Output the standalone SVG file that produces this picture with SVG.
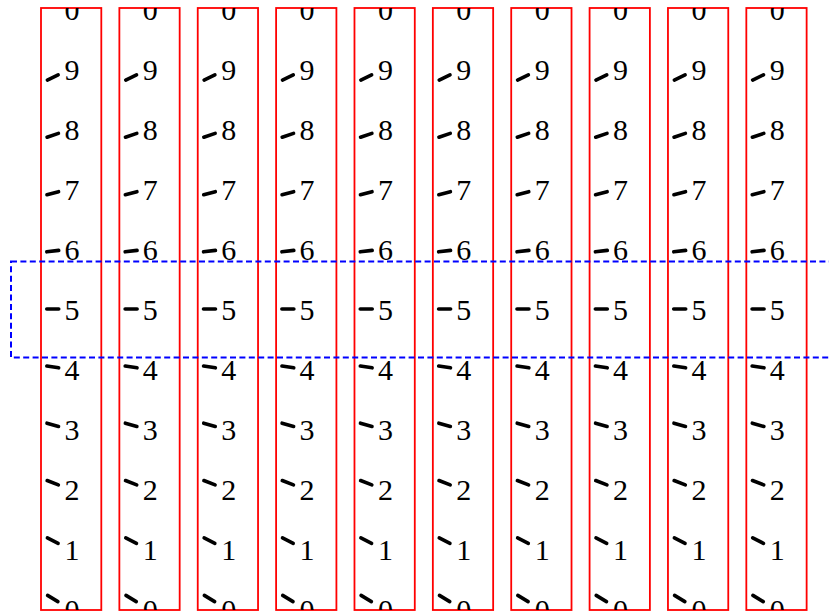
<svg xmlns="http://www.w3.org/2000/svg" xmlns:xlink="http://www.w3.org/1999/xlink" width="829" height="612" viewBox="0 0 829 612">
<style>
.reel{fill:none;stroke:#ff0000;stroke-width:1.8}
.tk{stroke:#000;stroke-width:3.6;stroke-linecap:round}
.d{font-family:"Liberation Serif","DejaVu Serif",serif;font-size:30px;fill:#000;text-anchor:middle}
.win{fill:none;stroke:#0000ff;stroke-width:2;stroke-dasharray:6 3.4}
</style>
<defs>
<clipPath id="clip"><rect x="0" y="8" width="60.3" height="602"/></clipPath>
<g id="ticks">
<line class="tk" x1="5.75" y1="77.4" x2="17.75" y2="77.4" transform="rotate(-26 11.75 77.4)"/>
<line class="tk" x1="5.75" y1="135.3" x2="17.75" y2="135.3" transform="rotate(-19 11.75 135.3)"/>
<line class="tk" x1="5.75" y1="193.2" x2="17.75" y2="193.2" transform="rotate(-15 11.75 193.2)"/>
<line class="tk" x1="5.75" y1="251.1" x2="17.75" y2="251.1" transform="rotate(-7 11.75 251.1)"/>
<line class="tk" x1="5.75" y1="309" x2="17.75" y2="309"/>
<line class="tk" x1="5.75" y1="366.9" x2="17.75" y2="366.9" transform="rotate(9 11.75 366.9)"/>
<line class="tk" x1="5.75" y1="424.8" x2="17.75" y2="424.8" transform="rotate(16 11.75 424.8)"/>
<line class="tk" x1="5.75" y1="482.7" x2="17.75" y2="482.7" transform="rotate(21 11.75 482.7)"/>
<line class="tk" x1="5.75" y1="540.6" x2="17.75" y2="540.6" transform="rotate(27 11.75 540.6)"/>
<line class="tk" x1="5.75" y1="598.5" x2="17.75" y2="598.5" transform="rotate(31 11.75 598.5)"/>
</g>
</defs>
<g id="col-1" transform="translate(41,0)">
<rect class="reel" x="0" y="8" width="60.3" height="602"/>
<use xlink:href="#ticks" href="#ticks"/>
<g clip-path="url(#clip)">
<text class="d" x="31" y="20.3">0</text><text class="d" x="31" y="80.3">9</text><text class="d" x="31" y="140.3">8</text><text class="d" x="31" y="200.3">7</text><text class="d" x="31" y="260.3">6</text><text class="d" x="31" y="320.3">5</text><text class="d" x="31" y="380.3">4</text><text class="d" x="31" y="440.3">3</text><text class="d" x="31" y="500.3">2</text><text class="d" x="31" y="560.3">1</text><text class="d" x="31" y="620.3">0</text>
</g>
</g>
<g id="col-2" transform="translate(119.37,0)">
<rect class="reel" x="0" y="8" width="60.3" height="602"/>
<use xlink:href="#ticks" href="#ticks"/>
<g clip-path="url(#clip)">
<text class="d" x="31" y="20.3">0</text><text class="d" x="31" y="80.3">9</text><text class="d" x="31" y="140.3">8</text><text class="d" x="31" y="200.3">7</text><text class="d" x="31" y="260.3">6</text><text class="d" x="31" y="320.3">5</text><text class="d" x="31" y="380.3">4</text><text class="d" x="31" y="440.3">3</text><text class="d" x="31" y="500.3">2</text><text class="d" x="31" y="560.3">1</text><text class="d" x="31" y="620.3">0</text>
</g>
</g>
<g id="col-3" transform="translate(197.74,0)">
<rect class="reel" x="0" y="8" width="60.3" height="602"/>
<use xlink:href="#ticks" href="#ticks"/>
<g clip-path="url(#clip)">
<text class="d" x="31" y="20.3">0</text><text class="d" x="31" y="80.3">9</text><text class="d" x="31" y="140.3">8</text><text class="d" x="31" y="200.3">7</text><text class="d" x="31" y="260.3">6</text><text class="d" x="31" y="320.3">5</text><text class="d" x="31" y="380.3">4</text><text class="d" x="31" y="440.3">3</text><text class="d" x="31" y="500.3">2</text><text class="d" x="31" y="560.3">1</text><text class="d" x="31" y="620.3">0</text>
</g>
</g>
<g id="col-4" transform="translate(276.11,0)">
<rect class="reel" x="0" y="8" width="60.3" height="602"/>
<use xlink:href="#ticks" href="#ticks"/>
<g clip-path="url(#clip)">
<text class="d" x="31" y="20.3">0</text><text class="d" x="31" y="80.3">9</text><text class="d" x="31" y="140.3">8</text><text class="d" x="31" y="200.3">7</text><text class="d" x="31" y="260.3">6</text><text class="d" x="31" y="320.3">5</text><text class="d" x="31" y="380.3">4</text><text class="d" x="31" y="440.3">3</text><text class="d" x="31" y="500.3">2</text><text class="d" x="31" y="560.3">1</text><text class="d" x="31" y="620.3">0</text>
</g>
</g>
<g id="col-5" transform="translate(354.48,0)">
<rect class="reel" x="0" y="8" width="60.3" height="602"/>
<use xlink:href="#ticks" href="#ticks"/>
<g clip-path="url(#clip)">
<text class="d" x="31" y="20.3">0</text><text class="d" x="31" y="80.3">9</text><text class="d" x="31" y="140.3">8</text><text class="d" x="31" y="200.3">7</text><text class="d" x="31" y="260.3">6</text><text class="d" x="31" y="320.3">5</text><text class="d" x="31" y="380.3">4</text><text class="d" x="31" y="440.3">3</text><text class="d" x="31" y="500.3">2</text><text class="d" x="31" y="560.3">1</text><text class="d" x="31" y="620.3">0</text>
</g>
</g>
<g id="col-6" transform="translate(432.85,0)">
<rect class="reel" x="0" y="8" width="60.3" height="602"/>
<use xlink:href="#ticks" href="#ticks"/>
<g clip-path="url(#clip)">
<text class="d" x="31" y="20.3">0</text><text class="d" x="31" y="80.3">9</text><text class="d" x="31" y="140.3">8</text><text class="d" x="31" y="200.3">7</text><text class="d" x="31" y="260.3">6</text><text class="d" x="31" y="320.3">5</text><text class="d" x="31" y="380.3">4</text><text class="d" x="31" y="440.3">3</text><text class="d" x="31" y="500.3">2</text><text class="d" x="31" y="560.3">1</text><text class="d" x="31" y="620.3">0</text>
</g>
</g>
<g id="col-7" transform="translate(511.22,0)">
<rect class="reel" x="0" y="8" width="60.3" height="602"/>
<use xlink:href="#ticks" href="#ticks"/>
<g clip-path="url(#clip)">
<text class="d" x="31" y="20.3">0</text><text class="d" x="31" y="80.3">9</text><text class="d" x="31" y="140.3">8</text><text class="d" x="31" y="200.3">7</text><text class="d" x="31" y="260.3">6</text><text class="d" x="31" y="320.3">5</text><text class="d" x="31" y="380.3">4</text><text class="d" x="31" y="440.3">3</text><text class="d" x="31" y="500.3">2</text><text class="d" x="31" y="560.3">1</text><text class="d" x="31" y="620.3">0</text>
</g>
</g>
<g id="col-8" transform="translate(589.59,0)">
<rect class="reel" x="0" y="8" width="60.3" height="602"/>
<use xlink:href="#ticks" href="#ticks"/>
<g clip-path="url(#clip)">
<text class="d" x="31" y="20.3">0</text><text class="d" x="31" y="80.3">9</text><text class="d" x="31" y="140.3">8</text><text class="d" x="31" y="200.3">7</text><text class="d" x="31" y="260.3">6</text><text class="d" x="31" y="320.3">5</text><text class="d" x="31" y="380.3">4</text><text class="d" x="31" y="440.3">3</text><text class="d" x="31" y="500.3">2</text><text class="d" x="31" y="560.3">1</text><text class="d" x="31" y="620.3">0</text>
</g>
</g>
<g id="col-9" transform="translate(667.96,0)">
<rect class="reel" x="0" y="8" width="60.3" height="602"/>
<use xlink:href="#ticks" href="#ticks"/>
<g clip-path="url(#clip)">
<text class="d" x="31" y="20.3">0</text><text class="d" x="31" y="80.3">9</text><text class="d" x="31" y="140.3">8</text><text class="d" x="31" y="200.3">7</text><text class="d" x="31" y="260.3">6</text><text class="d" x="31" y="320.3">5</text><text class="d" x="31" y="380.3">4</text><text class="d" x="31" y="440.3">3</text><text class="d" x="31" y="500.3">2</text><text class="d" x="31" y="560.3">1</text><text class="d" x="31" y="620.3">0</text>
</g>
</g>
<g id="col-10" transform="translate(746.33,0)">
<rect class="reel" x="0" y="8" width="60.3" height="602"/>
<use xlink:href="#ticks" href="#ticks"/>
<g clip-path="url(#clip)">
<text class="d" x="31" y="20.3">0</text><text class="d" x="31" y="80.3">9</text><text class="d" x="31" y="140.3">8</text><text class="d" x="31" y="200.3">7</text><text class="d" x="31" y="260.3">6</text><text class="d" x="31" y="320.3">5</text><text class="d" x="31" y="380.3">4</text><text class="d" x="31" y="440.3">3</text><text class="d" x="31" y="500.3">2</text><text class="d" x="31" y="560.3">1</text><text class="d" x="31" y="620.3">0</text>
</g>
</g>
<g id="window">
<rect class="win" x="11" y="261.5" width="840" height="96"/>
</g>
</svg>
